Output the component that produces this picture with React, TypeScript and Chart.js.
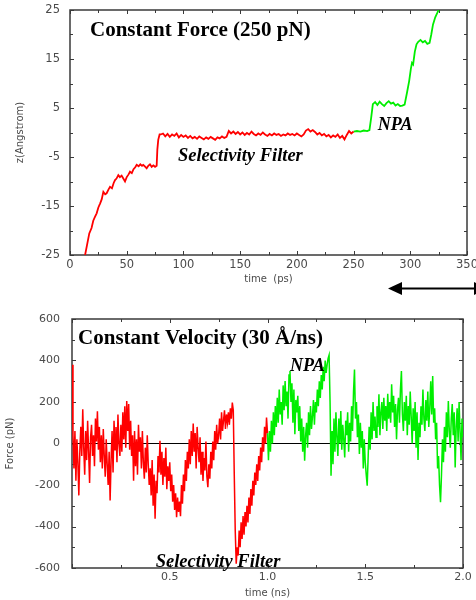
import React, { useEffect, useRef } from 'react';
import { Chart, registerables } from 'chart.js';

Chart.register(...registerables);

// ---------- Top panel: constant force, z (Angstrom) vs time (ps) ----------
const topXTicks = [0, 50, 100, 150, 200, 250, 300, 350];
const topXMinor = [25, 75, 125, 175, 225, 275, 325];
const topYTicks = [-25, -15, -5, 5, 15, 25];
const topYMinor = [-20, -10, 0, 10, 20];

const topRedTrace: [number, number][] = [
  [13.3, -25], [15, -23], [17, -20.6], [19, -19.5], [20.5, -18], [22, -17.2], [23.5, -16.5],
  [25, -15.3], [26.5, -14.5], [28, -13.6], [29.4, -12.1], [31, -12.6], [32.3, -12.4], [34, -11.6],
  [35.3, -11.1], [37, -11.4], [38.5, -10.3], [39.7, -9.7], [41, -9.4], [42.6, -8.7], [44, -9.1],
  [45.5, -8.8], [47, -9.4], [48.5, -10.0], [50, -9.1], [51.5, -8.6], [52.9, -8.0], [54.5, -8.3],
  [56, -7.5], [57.5, -7.1], [58.8, -6.6], [60.5, -6.9], [62, -6.5], [63.5, -6.8], [64.6, -6.6],
  [66, -6.9], [67.6, -7.3], [69, -6.8], [70.5, -6.5], [72, -7.0], [73.5, -6.7], [75, -7.0],
  [76.4, -6.8], [77, -3.5], [77.8, -1.5], [79, -0.4],
  [80, -0.4], [82, -0.2], [84, -0.8], [86, -0.3], [88, -0.9], [90, -0.4], [92, -0.7], [94, -0.2],
  [96, -1.0], [98, -0.5], [100, -0.9], [102, -0.6], [104, -1.1], [106, -0.7], [108, -1.2],
  [110, -0.9], [112, -1.3], [114, -0.8], [116, -1.1], [118, -1.4], [120, -1.0], [122, -1.3],
  [124, -0.9], [126, -1.2], [128, -1.5], [130, -1.0], [132, -1.2], [134, -0.8], [136, -1.1],
  [138, -0.9], [140, 0.3], [142, -0.2], [144, 0.2], [146, -0.3], [148, 0.1], [150, -0.4],
  [152, 0.0], [154, -0.5], [156, -0.1], [158, -0.4], [160, 0.2], [162, -0.3], [164, -0.6],
  [166, -0.2], [168, -0.5], [170, 0.0], [172, -0.4], [174, -0.7], [176, -0.3], [178, -0.6],
  [180, -0.2], [182, -0.5], [184, -0.3], [186, -0.7], [188, -0.4], [190, -0.6], [192, -0.2],
  [194, -0.5], [196, -0.3], [198, -0.6], [200, -0.2], [202, -0.5], [204, -0.8], [206, -0.4],
  [208, 0.4], [210, 0.7], [212, 0.2], [214, 0.5], [216, 0.1], [218, -0.4], [220, -0.1],
  [222, -0.6], [224, -0.3], [226, -0.8], [228, -0.5], [230, -1.0], [232, -0.6], [234, -0.9],
  [236, -0.4], [238, -1.1], [240, -0.7], [242, -1.4], [244, -0.5], [246, 0.3], [248, -0.2],
  [250, 0.2],
];

const topGreenTrace: [number, number][] = [
  [250, 0.2], [253, 0.3], [256, 0.2], [259, 0.4], [262, 0.3], [264, 0.5], [265.5, 3.0],
  [267, 5.8], [269, 6.2], [271, 5.6], [273, 6.3], [275, 5.8], [277, 5.4], [279, 6.0],
  [281, 6.4], [283, 5.9], [285, 6.1], [287, 5.5], [289, 5.8], [291, 5.4], [293, 5.5],
  [295, 5.7], [297, 8.0], [299, 10.5], [300.5, 13.0], [301.5, 14.2], [302.5, 13.9],
  [304, 16.5], [305.5, 18.0], [307, 18.5], [309, 18.9], [311, 18.4], [313, 18.7], [315, 18.1],
  [317, 18.3], [318.5, 20.0], [320, 22.0], [322, 23.5], [324, 24.5], [326, 25.6], [328, 27],
];

// ---------- Bottom panel: constant velocity, force (pN) vs time (ns) ----------
const botXTicks = [0.5, 1.0, 1.5, 2.0];
const botXMarks = [0, 0.5, 1.0, 1.5, 2.0];
const botXMinor = [0.25, 0.75, 1.25, 1.75];
const botYTicks = [-600, -400, -200, 0, 200, 400, 600];
const botYMinor = [-500, -300, -100, 100, 300, 500];

const forceStepNs = 0.005;
const redStartNs = 0;
const greenStartNs = 1.0;

const redForce = [
  380, 40, -120, 60, -180, 20, -90, -250, -40, 80,
  -60, 165, -20, -150, 60, -80, 110, -40, -190, 30,
  90, -60, 40, -110, 120, 10, 155, -30, 80, -90,
  40, -120, 70, -60, -160, 20, -100, -200, -40, -275,
  -80, 60, -140, 110, -30, 80, -90, 140, 0, -60,
  90, -40, 150, 20, 180, -20, 205, 60, 190, -30,
  110, -60, 40, -180, 60, -110, 20, -150, 90, -40,
  30, -120, 60, -90, -170, -20, -140, 40, -100, -200,
  -120, -250, -80, -300, -150, -362, -180, -240, -60, -140,
  13, -150, -40, -200, -70, -160, -20, -220, -110, -180,
  -90, -230, -150, -280, -200, -320, -240, -355, -260, -330,
  -280, -350, -200, -290, -150, -230, -80, -180, -40, -120,
  20, -100, 60, -60, 96, -40, 50, -120, 80, -20,
  -90, 30, -150, -40, -180, -70, -130, 10, -160, -211,
  -100, -170, -40, -120, 10, -80, 60, -30, 90, 0,
  40, 120, 20, 150, 60, 110, 160, 70, 140, 100,
  150, 90, 170, 120, 197, 160, -150, -420, -579, -500,
  -540, -420, -500, -380, -460, -350, -440, -330, -400, -300,
  -380, -260, -340, -220, -300, -180, -250, -140, -200, -100,
  -180, -60, -130, -20, -90, 30, -40, 80, 0, 125, 50,
];

const greenForce = [
  50, -80, 60, -40, 110, 0, 150, 40, 180, 80,
  220, 100, 260, 140, 200, 90, 280, 160, 301, 180,
  250, 120, 330, 349, 200, 290, 100, 260, 45, 210,
  150, 230, 60, 180, 10, 120, -40, 80, -83, 40,
  100, -20, 150, 40, 180, 70, 130, 210, 90, 200,
  150, 260, 180, 300, 220, 330, 260, 370, 300, 400,
  340, 380, 410, 426, 200, -155, 60, -100, 120, -40,
  150, 30, -60, 120, 0, 157, -30, 90, 20, -67,
  110, 40, 150, -40, 100, 10, 180, 60, 250, 357,
  120, 200, 30, 140, -50, 100, -20, 60, -120, 20,
  -90, -150, -203, -60, 80, -30, 150, 20, 200, 60,
  130, 30, 180, 80, 237, 40, 150, 200, 70, 220,
  110, 180, 60, 240, 120, 200, 100, 285, 150, 230,
  80, 190, 20, 160, 220, 100, 260, 349, 140, 60,
  200, 110, 230, 40, 180, 90, 250, 130, 0, 170,
  60, 200, -20, 150, -80, 100, 30, 180, 90, 260,
  120, 60, 210, 110, 250, 80, 170, 300, 140, 325,
  100, 170, 20, 100, -120, -60, -200, -283, -150, 20,
  -90, 80, -40, 150, 30, 205, 60, -20, 120, 190,
  40, 150, -115, 80, 170, 10, 200, 60, -80, 120, 30,
];

const zeroLine: [number, number][] = [[0, 0], [2, 0]];

// ---------- styling ----------
const RED = '#ff0000';
const GREEN = '#00ee00';
const AXIS_TEXT = '#4a4a4a';
const TICK_FONT = 'DejaVu Sans';

type TextItem = { text: string; x: number; y: number; font: string };
type Deco = {
  xMarks: number[];
  xMinor: number[];
  yMarks: number[];
  yMinor: number[];
  texts: TextItem[];
  arrow?: boolean;
};

function decoPlugin(d: Deco) {
  return {
    id: 'deco',
    beforeDatasetsDraw(chart: any) {
      const { ctx, chartArea: a, scales } = chart;
      const xs = scales.x;
      const ys = scales.y;
      ctx.save();
      ctx.strokeStyle = '#3a3a3a';
      ctx.lineWidth = 1;
      const xTick = (vals: number[], len: number) => {
        vals.forEach((v) => {
          const px = Math.round(xs.getPixelForValue(v)) + 0.5;
          ctx.beginPath();
          ctx.moveTo(px, a.bottom);
          ctx.lineTo(px, a.bottom - len);
          ctx.moveTo(px, a.top);
          ctx.lineTo(px, a.top + len);
          ctx.stroke();
        });
      };
      const yTick = (vals: number[], len: number) => {
        vals.forEach((v) => {
          const py = Math.round(ys.getPixelForValue(v)) + 0.5;
          ctx.beginPath();
          ctx.moveTo(a.left, py);
          ctx.lineTo(a.left + len, py);
          ctx.moveTo(a.right, py);
          ctx.lineTo(a.right - len, py);
          ctx.stroke();
        });
      };
      xTick(d.xMarks, 4);
      xTick(d.xMinor, 3);
      yTick(d.yMarks, 4);
      yTick(d.yMinor, 3);
      ctx.lineWidth = 1.5;
      ctx.strokeStyle = '#3a3a3a';
      ctx.strokeRect(a.left, a.top, a.right - a.left, a.bottom - a.top);
      ctx.restore();
    },
    afterDatasetsDraw(chart: any) {
      const { ctx, scales } = chart;
      ctx.save();
      ctx.fillStyle = '#000';
      ctx.textBaseline = 'alphabetic';
      ctx.textAlign = 'left';
      d.texts.forEach((t) => {
        ctx.font = t.font;
        ctx.fillText(t.text, scales.x.getPixelForValue(t.x), scales.y.getPixelForValue(t.y));
      });
      ctx.restore();
    },
    afterDraw(chart: any) {
      if (!d.arrow) return;
      const { ctx, chartArea: a } = chart;
      const y = a.bottom + 33.5;
      const x0 = a.right - 79;
      const x1 = chart.width + 12;
      ctx.save();
      ctx.strokeStyle = '#000';
      ctx.fillStyle = '#000';
      ctx.lineWidth = 2;
      ctx.beginPath();
      ctx.moveTo(x0 + 10, y);
      ctx.lineTo(x1 - 10, y);
      ctx.stroke();
      ctx.beginPath();
      ctx.moveTo(x0, y);
      ctx.lineTo(x0 + 14, y - 6.5);
      ctx.lineTo(x0 + 14, y + 6.5);
      ctx.closePath();
      ctx.fill();
      ctx.beginPath();
      ctx.moveTo(x1, y);
      ctx.lineTo(x1 - 14, y - 6.5);
      ctx.lineTo(x1 - 14, y + 6.5);
      ctx.closePath();
      ctx.fill();
      ctx.restore();
    },
  };
}

function axisCfg(opts: {
  min: number;
  max: number;
  ticks: number[];
  fix: (s: any) => void;
  padding: number;
  size: number;
  title: string;
  titlePad: any;
  fmt: (v: number) => string;
}) {
  return {
    type: 'linear',
    min: opts.min,
    max: opts.max,
    afterBuildTicks: (s: any) => {
      s.ticks = opts.ticks.map((v) => ({ value: v }));
    },
    afterFit: opts.fix,
    grid: { display: false, drawTicks: false },
    border: { display: false },
    ticks: {
      autoSkip: false,
      maxRotation: 0,
      minRotation: 0,
      padding: opts.padding,
      color: AXIS_TEXT,
      font: { family: TICK_FONT, size: opts.size },
      callback: (v: any) => opts.fmt(Number(v)),
    },
    title: {
      display: true,
      text: opts.title,
      color: AXIS_TEXT,
      font: { family: TICK_FONT, size: 10 },
      padding: opts.titlePad,
    },
  };
}

function topConfig(): any {
  return {
    type: 'scatter',
    data: {
      datasets: [
        {
          data: topRedTrace.map(([x, y]) => ({ x, y })),
          showLine: true,
          borderColor: RED,
          borderWidth: 1.8,
          pointRadius: 0,
          tension: 0,
        },
        {
          data: topGreenTrace.map(([x, y]) => ({ x, y })),
          showLine: true,
          borderColor: GREEN,
          borderWidth: 1.8,
          pointRadius: 0,
          tension: 0,
        },
      ],
    },
    options: {
      responsive: false,
      animation: false,
      events: [],
      layout: { padding: { top: 10, right: 9, left: 0, bottom: 0 } },
      plugins: { legend: { display: false }, tooltip: { enabled: false } },
      scales: {
        x: axisCfg({
          min: 0,
          max: 350,
          ticks: topXTicks,
          fix: (s: any) => {
            s.height = 45;
            s.paddingLeft = 0;
            s.paddingRight = 0;
          },
          padding: 3,
          size: 11.5,
          title: 'time  (ps)',
          titlePad: { top: 0, bottom: 15 },
          fmt: (v) => String(v),
        }),
        y: axisCfg({
          min: -25,
          max: 25,
          ticks: topYTicks,
          fix: (s: any) => {
            s.width = 70;
            s.paddingTop = 0;
            s.paddingBottom = 0;
          },
          padding: 10,
          size: 11.5,
          title: 'z(Angstrom)',
          titlePad: { top: 14, bottom: 0 },
          fmt: (v) => String(v),
        }),
      },
    },
    plugins: [
      decoPlugin({
        xMarks: topXTicks,
        xMinor: topXMinor,
        yMarks: topYTicks,
        yMinor: topYMinor,
        arrow: true,
        texts: [
          { text: 'Constant Force (250 pN)', x: 17.6, y: 19.7, font: 'bold 21px "Liberation Serif"' },
          { text: 'Selectivity Filter', x: 95.2, y: -5.9, font: 'italic bold 18.5px "Liberation Serif"' },
          { text: 'NPA', x: 271.3, y: 0.6, font: 'italic bold 18px "Liberation Serif"' },
        ],
      }),
    ],
  };
}

function bottomConfig(): any {
  return {
    type: 'scatter',
    data: {
      datasets: [
        {
          data: redForce.map((f, i) => ({ x: redStartNs + i * forceStepNs, y: f })),
          showLine: true,
          borderColor: RED,
          borderWidth: 1.5,
          pointRadius: 0,
          tension: 0,
        },
        {
          data: greenForce.map((f, i) => ({ x: greenStartNs + i * forceStepNs, y: f })),
          showLine: true,
          borderColor: GREEN,
          borderWidth: 1.5,
          pointRadius: 0,
          tension: 0,
        },
        {
          data: zeroLine.map(([x, y]) => ({ x, y })),
          showLine: true,
          borderColor: '#000',
          borderWidth: 1,
          pointRadius: 0,
          tension: 0,
        },
      ],
    },
    options: {
      responsive: false,
      animation: false,
      events: [],
      layout: { padding: { top: 19, right: 13, left: 0, bottom: 0 } },
      plugins: { legend: { display: false }, tooltip: { enabled: false } },
      scales: {
        x: axisCfg({
          min: 0,
          max: 2,
          ticks: botXTicks,
          fix: (s: any) => {
            s.height = 32;
            s.paddingLeft = 0;
            s.paddingRight = 0;
          },
          padding: 3,
          size: 11,
          title: 'time (ns)',
          titlePad: { top: 0, bottom: 1 },
          fmt: (v) => v.toFixed(1),
        }),
        y: axisCfg({
          min: -600,
          max: 600,
          ticks: botYTicks,
          fix: (s: any) => {
            s.width = 72;
            s.paddingTop = 0;
            s.paddingBottom = 0;
          },
          padding: 12,
          size: 11,
          title: 'Force (pN)',
          titlePad: { top: 4, bottom: 0 },
          fmt: (v) => String(v),
        }),
      },
    },
    plugins: [
      decoPlugin({
        xMarks: botXMarks,
        xMinor: botXMinor,
        yMarks: botYTicks,
        yMinor: botYMinor,
        texts: [
          { text: 'Constant Velocity (30 Å/ns)', x: 0.031, y: 479, font: 'bold 21px "Liberation Serif"' },
          { text: 'NPA', x: 1.115, y: 347, font: 'italic bold 18px "Liberation Serif"' },
          { text: 'Selectivity Filter', x: 0.428, y: -594, font: 'italic bold 18.5px "Liberation Serif"' },
        ],
      }),
    ],
  };
}

export default function App() {
  const topRef = useRef<HTMLCanvasElement | null>(null);
  const botRef = useRef<HTMLCanvasElement | null>(null);

  useEffect(() => {
    const c1 = new Chart(topRef.current as HTMLCanvasElement, topConfig());
    const c2 = new Chart(botRef.current as HTMLCanvasElement, bottomConfig());
    return () => {
      c1.destroy();
      c2.destroy();
    };
  }, []);

  return (
    <div style={{ position: 'absolute', left: 0, top: 0, width: 476, height: 600, background: '#fff', overflow: 'hidden' }}>
      <canvas ref={topRef} width={476} height={300} style={{ position: 'absolute', left: 0, top: 0, width: 476, height: 300 }} />
      <canvas ref={botRef} width={476} height={300} style={{ position: 'absolute', left: 0, top: 300, width: 476, height: 300 }} />
    </div>
  );
}
